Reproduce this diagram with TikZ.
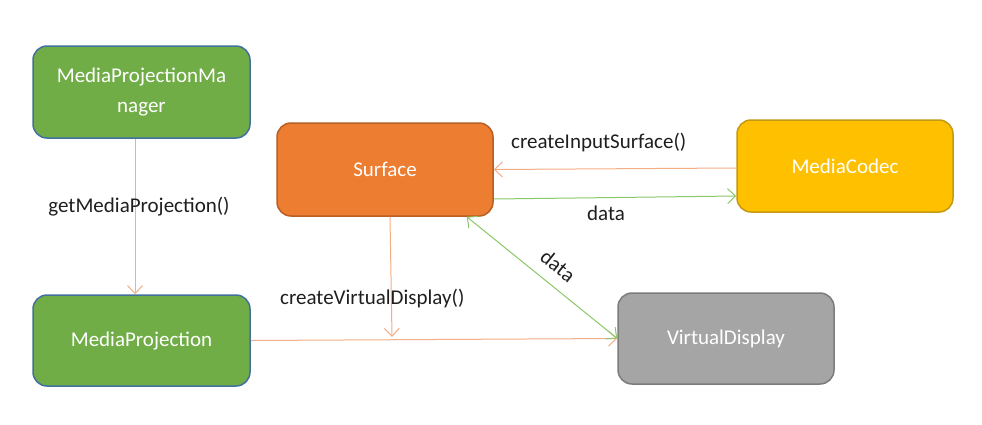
\documentclass[tikz,border=0pt]{standalone}
\usepackage{fontspec}
\setmainfont{Carlito}
\usetikzlibrary{arrows.meta}
\definecolor{gfill}{HTML}{70AD47}
\definecolor{bluebord}{HTML}{41719C}
\definecolor{ofill}{HTML}{ED7D31}
\definecolor{obord}{HTML}{B85F22}
\definecolor{yfill}{HTML}{FFC000}
\definecolor{ybord}{HTML}{C49A12}
\definecolor{grfill}{HTML}{A5A5A5}
\definecolor{grbord}{HTML}{7C7C7C}
\definecolor{oline}{HTML}{F4AE86}
\definecolor{gline}{HTML}{8CC86A}
\tikzset{
  boxnode/.style={rectangle, rounded corners=14pt, line width=1.5pt, minimum width=216pt, minimum height=92pt, text=white, font=\fontsize{21}{30}\selectfont, align=center, inner sep=0pt},
  lbl/.style={text=black!88, font=\fontsize{21}{26}\selectfont, inner sep=0pt},
  tip/.style={-{Straight Barb[length=8pt,width=15pt,line width=1pt]}},
  oarrow/.style={draw=oline, line width=1pt, tip},
  garrow/.style={draw=gline, line width=1pt},
}
\begin{document}
\begin{tikzpicture}[x=1pt,y=-1pt]
\useasboundingbox[fill=white] (0,0) rectangle (982,424);
\node[boxnode, fill=gfill, draw=bluebord, minimum width=217pt] (mpm) at (141.5,92) {MediaProjectionMa\\nager};
\node[boxnode, fill=ofill, draw=obord, minimum height=93pt] (surf) at (385,169.5) {Surface};
\node[boxnode, fill=yfill, draw=ybord] (mc) at (845,166) {MediaCodec};
\node[boxnode, fill=gfill, draw=bluebord, minimum width=217pt, minimum height=91pt] (mp) at (141.5,340.5) {MediaProjection};
\node[boxnode, fill=grfill, draw=grbord, minimum height=91pt] (vd) at (726,338.5) {VirtualDisplay};
\coordinate (vtip) at (392,337);
% connectors
\draw[oarrow] ([xshift=-6.5pt]mpm.south) -- ([xshift=-6.5pt]mp.north);
\draw[oarrow] ([yshift=-2pt]mc.west) -- (surf.east);
\draw[garrow, tip] ([yshift=-29.5pt]surf.east) -- ([yshift=-30pt]mc.west);
\draw[oarrow] ([xshift=5pt]surf.south) -- (vtip);
\draw[oarrow] (mp.east) -- (vd.west);
\draw[garrow, {Straight Barb[length=8pt,width=15pt,line width=1pt]}-{Straight Barb[length=8pt,width=15pt,line width=1pt]}] ([xshift=-27pt]surf.south east) -- (vd.west);
% labels
\node[lbl] (l1) at (139,207) {getMediaProjection()};
\node[lbl, anchor=west] (l2) at (511,143) {createInputSurface()};
\node[lbl] (l3) at (606,213) {data};
\node[lbl, anchor=west] (l4) at (280,299) {createVirtualDisplay()};
\node[lbl, rotate=-38.6] (l5) at (558,266) {data};
\end{tikzpicture}
\end{document}
